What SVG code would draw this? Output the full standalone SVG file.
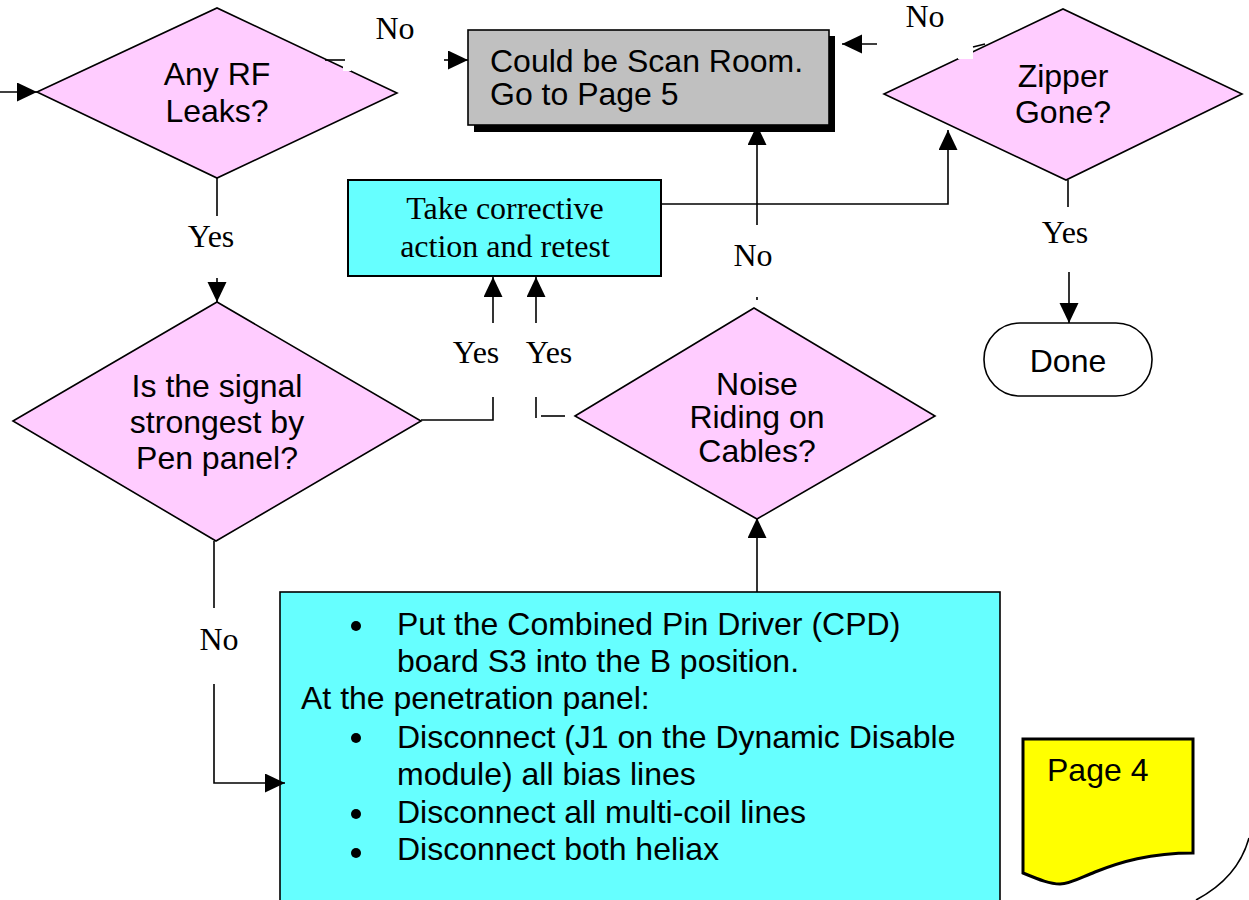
<svg xmlns="http://www.w3.org/2000/svg" width="1249" height="900" viewBox="0 0 1249 900">
  <style>
    .dia { fill: #ffccff; stroke: #000; stroke-width: 1.6; }
    .sans { font-family: "Liberation Sans", Arial, sans-serif; font-size: 32px; fill: #000; }
    .serif { font-family: "Liberation Serif", "Times New Roman", serif; font-size: 32px; fill: #000; }
    .mid { text-anchor: middle; }
    .conn { fill: none; stroke: #000; stroke-width: 1.6; }
  </style>
  <defs>
    <marker id="arrow" markerUnits="userSpaceOnUse" markerWidth="20" markerHeight="20" refX="20" refY="9.5" orient="auto">
      <path d="M0,0 L20,9.5 L0,19 Z" fill="#000"/>
    </marker>
  </defs>
  <rect width="1249" height="900" fill="#fff"/>

  <!-- Decision: Any RF Leaks? -->
  <g id="rf-leaks">
    <polygon class="dia" points="37,92 217,8 397,93 217,178"/>
    <text class="sans mid" x="217" y="85">Any RF</text>
    <text class="sans mid" x="217" y="122">Leaks?</text>
  </g>

  <!-- Process: Could be Scan Room -->
  <g id="scan-room">
    <rect x="474" y="36" width="361" height="96" fill="#000"/>
    <rect x="468" y="30" width="361" height="95" fill="#c0c0c0" stroke="#000" stroke-width="1.6"/>
    <text class="sans" x="490" y="72">Could be Scan Room.</text>
    <text class="sans" x="490" y="105">Go to Page 5</text>
  </g>

  <!-- Decision: Zipper Gone? -->
  <g id="zipper-gone">
    <polygon class="dia" points="884,94 1063,9 1242,94 1066,180"/>
    <text class="sans mid" x="1063" y="87">Zipper</text>
    <text class="sans mid" x="1063" y="123">Gone?</text>
  </g>

  <!-- Process: Take corrective action -->
  <g id="corrective">
    <rect x="348" y="180" width="313" height="96" fill="#66ffff" stroke="#000" stroke-width="2"/>
    <text class="serif mid" x="505" y="219">Take corrective</text>
    <text class="serif mid" x="505" y="257">action and retest</text>
  </g>

  <!-- Terminator: Done -->
  <g id="done">
    <rect x="984" y="323" width="168" height="73" rx="36" ry="36" fill="#fff" stroke="#000" stroke-width="1.6"/>
    <text class="sans mid" x="1068" y="372">Done</text>
  </g>

  <!-- Decision: Is the signal strongest by Pen panel? -->
  <g id="pen-panel">
    <polygon class="dia" points="13,421 217,302 421,421 216,541"/>
    <text class="sans mid" x="217" y="397">Is the signal</text>
    <text class="sans mid" x="217" y="433">strongest by</text>
    <text class="sans mid" x="217" y="469">Pen panel?</text>
  </g>

  <!-- Decision: Noise Riding on Cables? -->
  <g id="noise-cables">
    <polygon class="dia" points="575,416 754,308 935,416 757,519"/>
    <text class="sans mid" x="757" y="395">Noise</text>
    <text class="sans mid" x="757" y="428">Riding on</text>
    <text class="sans mid" x="757" y="462">Cables?</text>
  </g>

  <!-- Process: disconnect steps -->
  <g id="disconnect-steps">
    <rect x="280" y="592" width="720" height="320" fill="#66ffff" stroke="#000" stroke-width="1.6"/>
    <circle cx="356" cy="626" r="5" fill="#000"/>
    <text class="sans" x="397" y="635">Put the Combined Pin Driver (CPD)</text>
    <text class="sans" x="397" y="672">board S3 into the B position.</text>
    <text class="sans" x="301" y="709">At the penetration panel:</text>
    <circle cx="356" cy="738" r="5" fill="#000"/>
    <text class="sans" x="397" y="748">Disconnect (J1 on the Dynamic Disable</text>
    <text class="sans" x="397" y="785">module) all bias lines</text>
    <circle cx="356" cy="814" r="5" fill="#000"/>
    <text class="sans" x="397" y="823">Disconnect all multi-coil lines</text>
    <circle cx="356" cy="853" r="5" fill="#000"/>
    <text class="sans" x="397" y="860">Disconnect both heliax</text>
  </g>

  <!-- Document: Page 4 -->
  <g id="page-4">
    <path d="M1023,739 H1193 V853 C1150,853 1120,862 1095,872 C1080,878 1070,884 1060,884 C1050,884 1040,880 1023,873 Z" fill="#ffff00" stroke="#000" stroke-width="3"/>
    <text class="sans" x="1047" y="781">Page 4</text>
  </g>

  <!-- Off-page connector edge -->
  <g id="off-page">
    <path class="conn" d="M1249,838 Q1238,878 1196,900"/>
  </g>

  <!-- Connectors and labels -->
  <g id="connectors">
    <path class="conn" d="M0,92 L37,92" marker-end="url(#arrow)"/>

    <rect x="343" y="61" width="8" height="10" fill="#fff"/>
    <path class="conn" d="M325,60 L345,60"/>
    <path class="conn" d="M444,60 L468,60" marker-end="url(#arrow)"/>
    <text class="serif mid" x="395" y="39">No</text>

    <path class="conn" d="M217,178 L217,216"/>
    <text class="serif mid" x="211" y="247">Yes</text>
    <path class="conn" d="M217,278 L217,302" marker-end="url(#arrow)"/>

    <path class="conn" d="M421,420 L493,420 L493,397"/>
    <path class="conn" d="M493,323 L493,277" marker-end="url(#arrow)"/>
    <path class="conn" d="M565,416 L541,416"/>
    <path class="conn" d="M536,418 L536,397"/>
    <path class="conn" d="M536,323 L536,277" marker-end="url(#arrow)"/>
    <text class="serif mid" x="476" y="363">Yes</text>
    <text class="serif mid" x="549" y="363">Yes</text>

    <path class="conn" d="M661,204 L948,204 L948,130" marker-end="url(#arrow)"/>

    <path class="conn" d="M757,225 L757,125" marker-end="url(#arrow)"/>
    <text class="serif mid" x="753" y="266">No</text>
    <path class="conn" d="M757,297 L757,300"/>

    <rect x="958" y="36" width="15" height="23" fill="#fff"/>
    <path class="conn" d="M877,44 L842,44" marker-end="url(#arrow)"/>
    <path class="conn" d="M973,47 L985,44"/>
    <text class="serif mid" x="925" y="27">No</text>

    <path class="conn" d="M1068,180 L1068,207"/>
    <text class="serif mid" x="1065" y="243">Yes</text>
    <path class="conn" d="M1069,272 L1069,323" marker-end="url(#arrow)"/>

    <path class="conn" d="M214,541 L214,608"/>
    <text class="serif mid" x="219" y="650">No</text>
    <path class="conn" d="M214,684 L214,783 L285,783" marker-end="url(#arrow)"/>

    <path class="conn" d="M757,592 L757,518" marker-end="url(#arrow)"/>
  </g>
</svg>
